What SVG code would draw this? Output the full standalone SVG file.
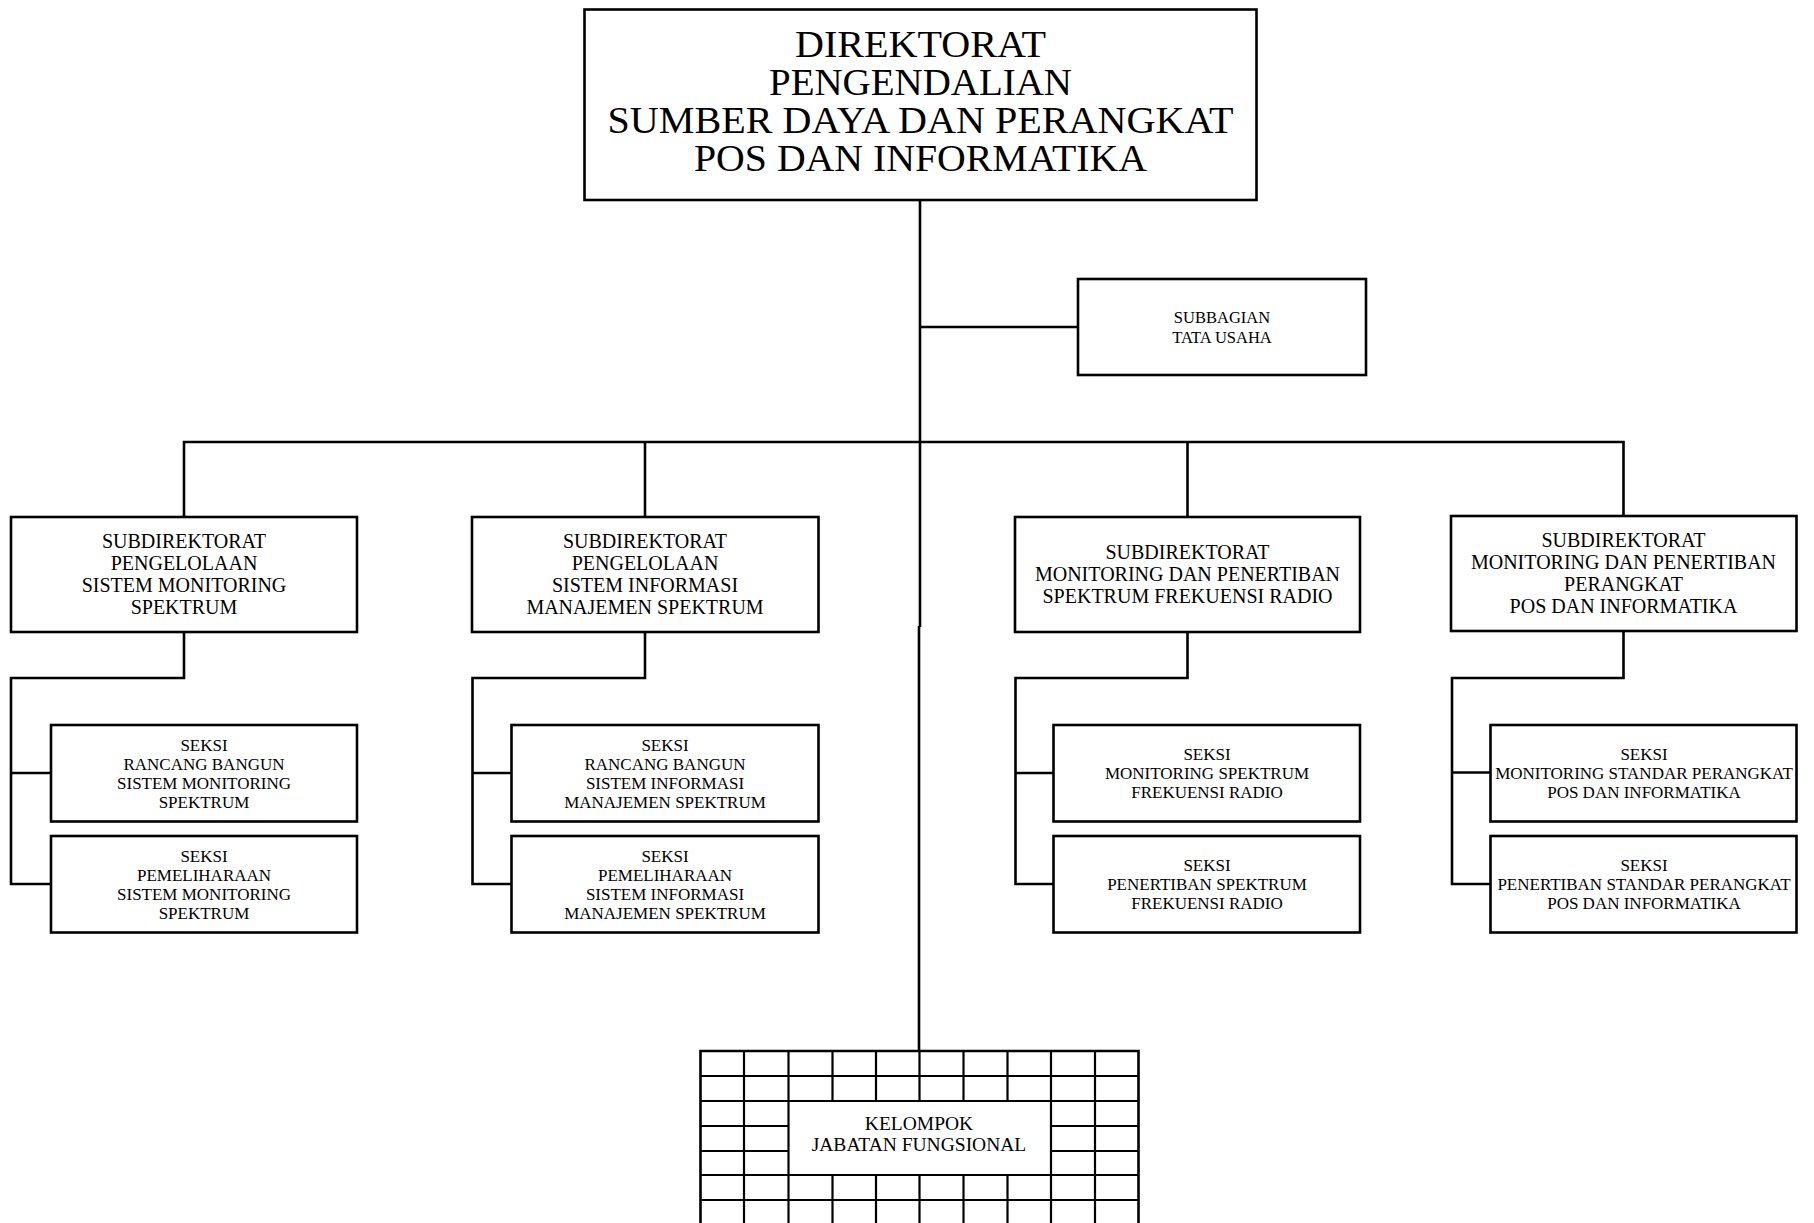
<svg xmlns="http://www.w3.org/2000/svg" width="1814" height="1223" viewBox="0 0 1814 1223">
<style>
.box{fill:#fff;stroke:#000;stroke-width:2.6}
.ln{fill:none;stroke:#000;stroke-width:2.6}
.g{fill:none;stroke:#000;stroke-width:2.2}
text{font-family:"Liberation Serif","Times New Roman",serif;fill:#000;text-anchor:middle}
.t1{font-size:37px}
.t2{font-size:20px}
.t3{font-size:17px}
.t4{font-size:16.5px}
.t5{font-size:19.5px}
</style>
<rect width="1814" height="1223" fill="#fff"/>
<g id="connectors">
<path class="ln" d="M920,200 V627" stroke-width="3.2"/>
<path class="ln" d="M919,626 V1051"/>
<path class="ln" d="M920,327 H1078"/>
<path class="ln" d="M184,517 V442 H1623.5 V516"/>
<path class="ln" d="M645,442 V517"/>
<path class="ln" d="M1187.5,442 V517"/>
<path class="ln" d="M184,632 V678 H11 V884 H51 M11,773 H51"/>
<path class="ln" d="M645,632 V678 H472.5 V884 H511.5 M472.5,773 H511.5"/>
<path class="ln" d="M1187.5,632 V678 H1015.5 V884 H1053.5 M1015.5,773 H1053.5"/>
<path class="ln" d="M1623.5,631 V678 H1452 V884 H1490.5 M1452,772.5 H1490.5"/>
</g>
<g id="direktorat">
<rect class="box" x="584.5" y="9.5" width="672" height="190.5"/>
<text class="t1" x="920.5" y="56.5" textLength="251" lengthAdjust="spacingAndGlyphs">DIREKTORAT</text>
<text class="t1" x="920.5" y="94.5" textLength="303" lengthAdjust="spacingAndGlyphs">PENGENDALIAN</text>
<text class="t1" x="920.5" y="132.5" textLength="626" lengthAdjust="spacingAndGlyphs">SUMBER DAYA DAN PERANGKAT</text>
<text class="t1" x="920.5" y="170.5" textLength="453" lengthAdjust="spacingAndGlyphs">POS DAN INFORMATIKA</text>
</g>
<g id="subbagian">
<rect class="box" x="1078" y="279" width="288" height="96"/>
<text class="t4" x="1222" y="322.5">SUBBAGIAN</text>
<text class="t4" x="1222" y="342.5">TATA USAHA</text>
</g>
<g id="subdir1">
<rect class="box" x="11" y="517" width="346" height="115"/>
<text class="t2" x="184" y="548">SUBDIREKTORAT</text>
<text class="t2" x="184" y="570">PENGELOLAAN</text>
<text class="t2" x="184" y="592">SISTEM MONITORING</text>
<text class="t2" x="184" y="614">SPEKTRUM</text>
</g>
<g id="subdir2">
<rect class="box" x="472" y="517" width="346.5" height="115"/>
<text class="t2" x="645" y="548">SUBDIREKTORAT</text>
<text class="t2" x="645" y="570">PENGELOLAAN</text>
<text class="t2" x="645" y="592">SISTEM INFORMASI</text>
<text class="t2" x="645" y="614">MANAJEMEN SPEKTRUM</text>
</g>
<g id="subdir3">
<rect class="box" x="1015" y="517" width="345" height="115"/>
<text class="t2" x="1187.5" y="559">SUBDIREKTORAT</text>
<text class="t2" x="1187.5" y="581">MONITORING DAN PENERTIBAN</text>
<text class="t2" x="1187.5" y="603">SPEKTRUM FREKUENSI RADIO</text>
</g>
<g id="subdir4">
<rect class="box" x="1451" y="516" width="345.5" height="115"/>
<text class="t2" x="1623.5" y="547">SUBDIREKTORAT</text>
<text class="t2" x="1623.5" y="569">MONITORING DAN PENERTIBAN</text>
<text class="t2" x="1623.5" y="591">PERANGKAT</text>
<text class="t2" x="1623.5" y="613">POS DAN INFORMATIKA</text>
</g>
<g id="seksi1a">
<rect class="box" x="51" y="725" width="306" height="96.5"/>
<text class="t3" x="204" y="750.5">SEKSI</text>
<text class="t3" x="204" y="769.5">RANCANG BANGUN</text>
<text class="t3" x="204" y="788.5">SISTEM MONITORING</text>
<text class="t3" x="204" y="807.5">SPEKTRUM</text>
</g>
<g id="seksi1b">
<rect class="box" x="51" y="836" width="306" height="96.5"/>
<text class="t3" x="204" y="861.5">SEKSI</text>
<text class="t3" x="204" y="880.5">PEMELIHARAAN</text>
<text class="t3" x="204" y="899.5">SISTEM MONITORING</text>
<text class="t3" x="204" y="918.5">SPEKTRUM</text>
</g>
<g id="seksi2a">
<rect class="box" x="511.5" y="725" width="307" height="96.5"/>
<text class="t3" x="665" y="750.5">SEKSI</text>
<text class="t3" x="665" y="769.5">RANCANG BANGUN</text>
<text class="t3" x="665" y="788.5">SISTEM INFORMASI</text>
<text class="t3" x="665" y="807.5">MANAJEMEN SPEKTRUM</text>
</g>
<g id="seksi2b">
<rect class="box" x="511.5" y="836" width="307" height="96.5"/>
<text class="t3" x="665" y="861.5">SEKSI</text>
<text class="t3" x="665" y="880.5">PEMELIHARAAN</text>
<text class="t3" x="665" y="899.5">SISTEM INFORMASI</text>
<text class="t3" x="665" y="918.5">MANAJEMEN SPEKTRUM</text>
</g>
<g id="seksi3a">
<rect class="box" x="1053.5" y="725" width="306.5" height="96.5"/>
<text class="t3" x="1207" y="759.5">SEKSI</text>
<text class="t3" x="1207" y="778.5">MONITORING SPEKTRUM</text>
<text class="t3" x="1207" y="797.5">FREKUENSI RADIO</text>
</g>
<g id="seksi3b">
<rect class="box" x="1053.5" y="836" width="306.5" height="96.5"/>
<text class="t3" x="1207" y="870.5">SEKSI</text>
<text class="t3" x="1207" y="889.5">PENERTIBAN SPEKTRUM</text>
<text class="t3" x="1207" y="908.5">FREKUENSI RADIO</text>
</g>
<g id="seksi4a">
<rect class="box" x="1490.5" y="725" width="306" height="96.5"/>
<text class="t3" x="1644" y="759.5">SEKSI</text>
<text class="t3" x="1644" y="778.5">MONITORING STANDAR PERANGKAT</text>
<text class="t3" x="1644" y="797.5">POS DAN INFORMATIKA</text>
</g>
<g id="seksi4b">
<rect class="box" x="1490.5" y="836" width="306" height="96.5"/>
<text class="t3" x="1644" y="870.5">SEKSI</text>
<text class="t3" x="1644" y="889.5">PENERTIBAN STANDAR PERANGKAT</text>
<text class="t3" x="1644" y="908.5">POS DAN INFORMATIKA</text>
</g>
<g id="kelompok">
<rect x="700.5" y="1051" width="438" height="180" fill="#fff"/>
<path class="g" d="M700.5,1076 H1138.5 M700.5,1101 H1138.5 M700.5,1175 H1138.5 M700.5,1200 H1138.5 M700.5,1126 H788.5 M700.5,1151 H788.5 M1051,1126 H1138.5 M1051,1151 H1138.5 M744,1051 V1230 M788.5,1051 V1230 M1051,1051 V1230 M1095,1051 V1230 M832.5,1051 V1101 M876,1051 V1101 M919.5,1051 V1101 M963.5,1051 V1101 M1007.5,1051 V1101 M832.5,1175 V1230 M876,1175 V1230 M919.5,1175 V1230 M963.5,1175 V1230 M1007.5,1175 V1230"/>
<path class="ln" d="M700.5,1232 V1051 H1138.5 V1232" stroke-width="3"/>
<text class="t5" x="919" y="1130">KELOMPOK</text>
<text class="t5" x="919" y="1150.5">JABATAN FUNGSIONAL</text>
</g>
</svg>
